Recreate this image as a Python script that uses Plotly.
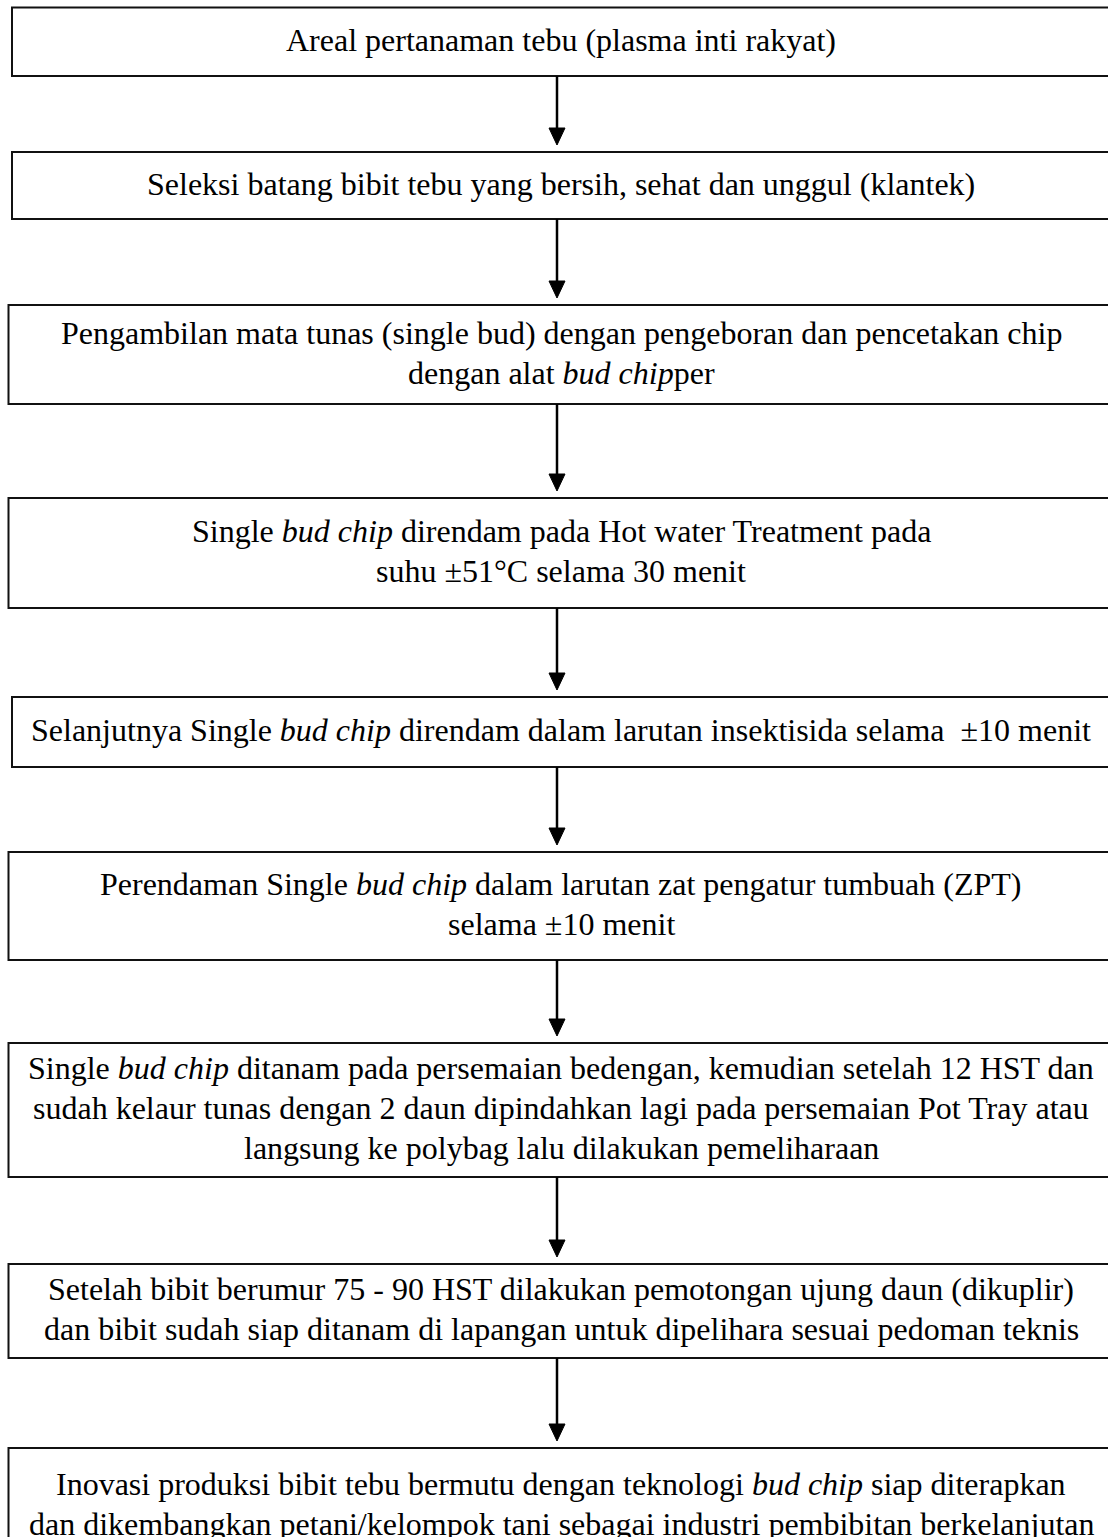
import plotly.graph_objects as go

# ---- content ----
steps = [
    ["Areal pertanaman tebu (plasma inti rakyat)"],
    ["Seleksi batang bibit tebu yang bersih, sehat dan unggul (klantek)"],
    ["Pengambilan mata tunas (single bud) dengan pengeboran dan pencetakan chip",
     "dengan alat <i>bud chip</i>per"],
    ["Single <i>bud chip</i> direndam pada Hot water Treatment pada",
     "suhu ±51°C selama 30 menit"],
    ["Selanjutnya Single <i>bud chip</i> direndam dalam larutan insektisida selama  ±10 menit"],
    ["Perendaman Single <i>bud chip</i> dalam larutan zat pengatur tumbuah (ZPT)",
     "selama ±10 menit"],
    ["Single <i>bud chip</i> ditanam pada persemaian bedengan, kemudian setelah 12 HST dan",
     "sudah kelaur tunas dengan 2 daun dipindahkan lagi pada persemaian Pot Tray atau",
     "langsung ke polybag lalu dilakukan pemeliharaan"],
    ["Setelah bibit berumur 75 - 90 HST dilakukan pemotongan ujung daun (dikuplir)",
     "dan bibit sudah siap ditanam di lapangan untuk dipelihara sesuai pedoman teknis"],
    ["Inovasi produksi bibit tebu bermutu dengan teknologi <i>bud chip</i> siap diterapkan",
     "dan dikembangkan petani/kelompok tani sebagai industri pembibitan berkelanjutan"],
]

# ---- layout geometry (pixels of the page) ----
box_top = [7.5, 152, 305, 498, 697, 852, 1043, 1264, 1448]
box_bottom = [76, 219, 404, 608, 767, 960, 1177, 1358, 1560]
box_left = [12, 12, 8.5, 8.5, 12, 8.5, 8.5, 8.5, 8.5]
box_right = 1130
text_x = 561
text_dy = -2
arrow_x = 557
line_gap = 40
font_size = 32
W, H = 1108, 1537

fig = go.Figure()
fig.add_trace(go.Scatter(x=[1, W - 1], y=[1, H - 1], mode="markers",
                         marker=dict(opacity=0), hoverinfo="skip", showlegend=False))

shapes = []
annotations = []
for i, lines in enumerate(steps):
    shapes.append(dict(type="rect", xref="x", yref="y",
                       x0=box_left[i], x1=box_right, y0=box_top[i], y1=box_bottom[i],
                       line=dict(color="#111111", width=2), fillcolor="rgba(0,0,0,0)"))
    if i == len(steps) - 1:
        cy = 1504
    else:
        cy = (box_top[i] + box_bottom[i]) / 2 + text_dy
    n = len(lines)
    for j, ln in enumerate(lines):
        y = cy + (j - (n - 1) / 2) * line_gap
        annotations.append(dict(x=text_x, y=y, xref="x", yref="y", text=ln,
                                showarrow=False, xanchor="center", yanchor="middle",
                                font=dict(family="Liberation Serif", size=font_size, color="black")))
    if i < len(steps) - 1:
        y0 = box_bottom[i]
        tip = box_top[i + 1] - 7
        shapes.append(dict(type="line", xref="x", yref="y", x0=arrow_x, x1=arrow_x,
                           y0=y0, y1=tip - 10, line=dict(color="black", width=2.5)))
        shapes.append(dict(type="path", xref="x", yref="y",
                           path=f"M {arrow_x-8},{tip-17} L {arrow_x+8},{tip-17} L {arrow_x},{tip} Z",
                           fillcolor="black", line=dict(color="black", width=1)))

fig.update_layout(
    width=W, height=H,
    margin=dict(l=0, r=0, t=0, b=0),
    paper_bgcolor="white", plot_bgcolor="white",
    xaxis=dict(range=[0, W], visible=False, fixedrange=True),
    yaxis=dict(range=[H, 0], visible=False, fixedrange=True),
    shapes=shapes, annotations=annotations,
    showlegend=False,
)
fig.write_html("out.html", config={"displayModeBar": False},
               post_script="document.body.style.margin='0';document.body.style.overflow='hidden';")
